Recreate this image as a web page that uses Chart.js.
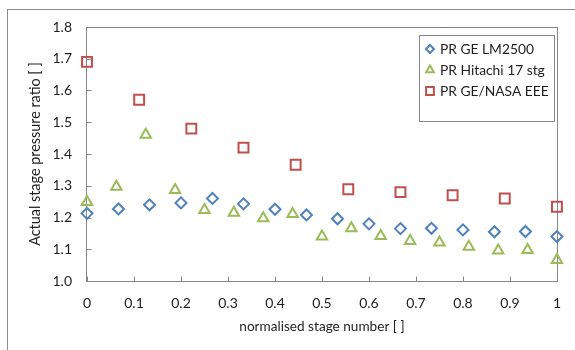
<!DOCTYPE html>
<html>
<head>
<meta charset="utf-8">
<script src="https://cdn.jsdelivr.net/npm/chart.js@4.4.1/dist/chart.umd.min.js"></script>
<style>
  html, body { margin: 0; padding: 0; background: #fff; }
  #wrap { width: 575px; height: 350px; }
</style>
</head>
<body>
<div id="wrap"><canvas id="chart" width="575" height="350"></canvas></div>
<script>
// normalised stage number vs. stage pressure ratio, three compressors
const stageLM2500 = [0, 0.067, 0.133, 0.2, 0.267, 0.333, 0.4, 0.467, 0.533, 0.6, 0.667, 0.733, 0.8, 0.867, 0.933, 1];
const prLM2500 = [1.213, 1.227, 1.240, 1.246, 1.260, 1.243, 1.226, 1.208, 1.196, 1.180, 1.165, 1.166, 1.161, 1.155, 1.156, 1.140];

const stageHitachi = [0, 0.0625, 0.125, 0.1875, 0.25, 0.3125, 0.375, 0.4375, 0.5, 0.5625, 0.625, 0.6875, 0.75, 0.8125, 0.875, 0.9375, 1];
const prHitachi = [1.249, 1.297, 1.461, 1.287, 1.224, 1.215, 1.198, 1.211, 1.140, 1.166, 1.142, 1.126, 1.121, 1.108, 1.096, 1.098, 1.066];

const stageEEE = [0, 0.111, 0.222, 0.333, 0.444, 0.556, 0.667, 0.778, 0.889, 1];
const prEEE = [1.690, 1.571, 1.480, 1.420, 1.366, 1.289, 1.280, 1.270, 1.260, 1.234];

const seriesNames = ['PR GE LM2500', 'PR Hitachi 17 stg', 'PR GE/NASA EEE'];
const xTickValues = [0, 0.1, 0.2, 0.3, 0.4, 0.5, 0.6, 0.7, 0.8, 0.9, 1];
const yTickValues = [1.0, 1.1, 1.2, 1.3, 1.4, 1.5, 1.6, 1.7, 1.8];

const FONT = 'Lato, "Noto Sans", sans-serif';
const TEXT = '#1e1e1e';
const LINE = '#868686';

function toPoints(xs, ys) {
  return xs.map((x, i) => ({ x: x, y: ys[i] }));
}

// chart frame, plot-area box, inward tick marks and the boxed legend
const framePlugin = {
  id: 'frame',
  beforeDraw(chart) {
    const ctx = chart.ctx;
    ctx.save();
    ctx.fillStyle = '#fff';
    ctx.fillRect(0, 0, chart.width, chart.height);
    ctx.strokeStyle = '#8c8c8c';
    ctx.lineWidth = 1;
    ctx.strokeRect(7.5, 9.5, chart.width + 10, chart.height + 10);
    ctx.restore();
  },
  beforeDatasetsDraw(chart) {
    const ctx = chart.ctx;
    const ca = chart.chartArea;
    const x0 = Math.round(ca.left) - 0.5, x1 = Math.round(ca.right) + 0.5;
    const y0 = Math.round(ca.top) + 0.5, y1 = Math.round(ca.bottom) + 0.5;
    ctx.save();
    ctx.strokeStyle = LINE;
    ctx.lineWidth = 1;
    ctx.strokeRect(x0, y0, x1 - x0, y1 - y0);
    ctx.beginPath();
    chart.scales.x.ticks.forEach(t => {
      const px = Math.round(chart.scales.x.getPixelForValue(t.value)) + 0.5;
      ctx.moveTo(px, y1);
      ctx.lineTo(px, y1 - 5);
    });
    chart.scales.y.ticks.forEach(t => {
      const py = Math.round(chart.scales.y.getPixelForValue(t.value)) + 0.5;
      ctx.moveTo(x0, py);
      ctx.lineTo(x0 + 5, py);
    });
    ctx.stroke();
    ctx.restore();
  },
  afterDraw(chart) {
    const ctx = chart.ctx;
    const bx = 419.5, by = 35.5, bw = 135, bh = 86;
    ctx.save();
    ctx.fillStyle = '#fff';
    ctx.fillRect(bx, by, bw, bh);
    ctx.strokeStyle = LINE;
    ctx.lineWidth = 1;
    ctx.strokeRect(bx, by, bw, bh);
    ctx.font = '13.8px ' + FONT;
    ctx.textBaseline = 'middle';
    ctx.textAlign = 'left';
    chart.data.datasets.forEach((ds, i) => {
      const cy = 49 + i * 21;
      ctx.strokeStyle = ds.borderColor;
      ctx.fillStyle = 'rgba(0,0,0,0)';
      ctx.lineWidth = 2;
      Chart.helpers.drawPoint(ctx, {
        pointStyle: ds.pointStyle,
        radius: ds.legendRadius,
        rotation: 0,
        borderWidth: 2
      }, 430, cy);
      ctx.fillStyle = TEXT;
      ctx.fillText(ds.label, 440, cy + 1);
    });
    ctx.restore();
  }
};

new Chart(document.getElementById('chart'), {
  type: 'scatter',
  data: {
    datasets: [
      {
        label: seriesNames[0],
        data: toPoints(stageLM2500, prLM2500),
        pointStyle: 'rectRot',
        pointRadius: 5.5,
        legendRadius: 4,
        borderColor: '#4F81BD',
        backgroundColor: 'rgba(0,0,0,0)',
        borderWidth: 2,
        clip: false
      },
      {
        label: seriesNames[1],
        data: toPoints(stageHitachi, prHitachi),
        pointStyle: 'triangle',
        pointRadius: 6,
        legendRadius: 4.5,
        borderColor: '#9BBB59',
        backgroundColor: 'rgba(0,0,0,0)',
        borderWidth: 2,
        clip: false
      },
      {
        label: seriesNames[2],
        data: toPoints(stageEEE, prEEE),
        pointStyle: 'rect',
        pointRadius: 7,
        legendRadius: 5.5,
        borderColor: '#C0504D',
        backgroundColor: 'rgba(0,0,0,0)',
        borderWidth: 2,
        clip: false
      }
    ]
  },
  options: {
    responsive: false,
    animation: false,
    devicePixelRatio: 1,
    layout: { padding: { top: 27, right: 13, left: 0, bottom: 0 } },
    plugins: {
      legend: { display: false },
      tooltip: { enabled: false }
    },
    elements: { point: { hoverRadius: 6 } },
    scales: {
      x: {
        type: 'linear',
        min: 0,
        max: 1,
        afterBuildTicks(scale) { scale.ticks = xTickValues.map(v => ({ value: v })); },
        afterFit(scale) { scale.height = 69; },
        grid: { display: false, drawTicks: false },
        border: { display: false },
        ticks: {
          padding: 14,
          color: TEXT,
          font: { family: FONT, size: 14 },
          maxRotation: 0,
          callback: v => String(v)
        },
        title: {
          display: true,
          text: 'normalised stage number [ ]',
          color: TEXT,
          font: { family: FONT, size: 13.6 },
          padding: { top: 0, bottom: 15 }
        }
      },
      y: {
        type: 'linear',
        min: 1.0,
        max: 1.8,
        afterBuildTicks(scale) { scale.ticks = yTickValues.map(v => ({ value: v })); },
        afterFit(scale) { scale.width = 87; },
        grid: { display: false, drawTicks: false },
        border: { display: false },
        ticks: {
          padding: 15,
          color: TEXT,
          font: { family: FONT, size: 14 },
          callback: v => v.toFixed(1)
        },
        title: {
          display: true,
          text: 'Actual stage pressure ratio [ ]',
          color: TEXT,
          font: { family: FONT, size: 14.4 },
          padding: { top: 27, bottom: 0 }
        }
      }
    }
  },
  plugins: [framePlugin]
});
</script>
</body>
</html>
